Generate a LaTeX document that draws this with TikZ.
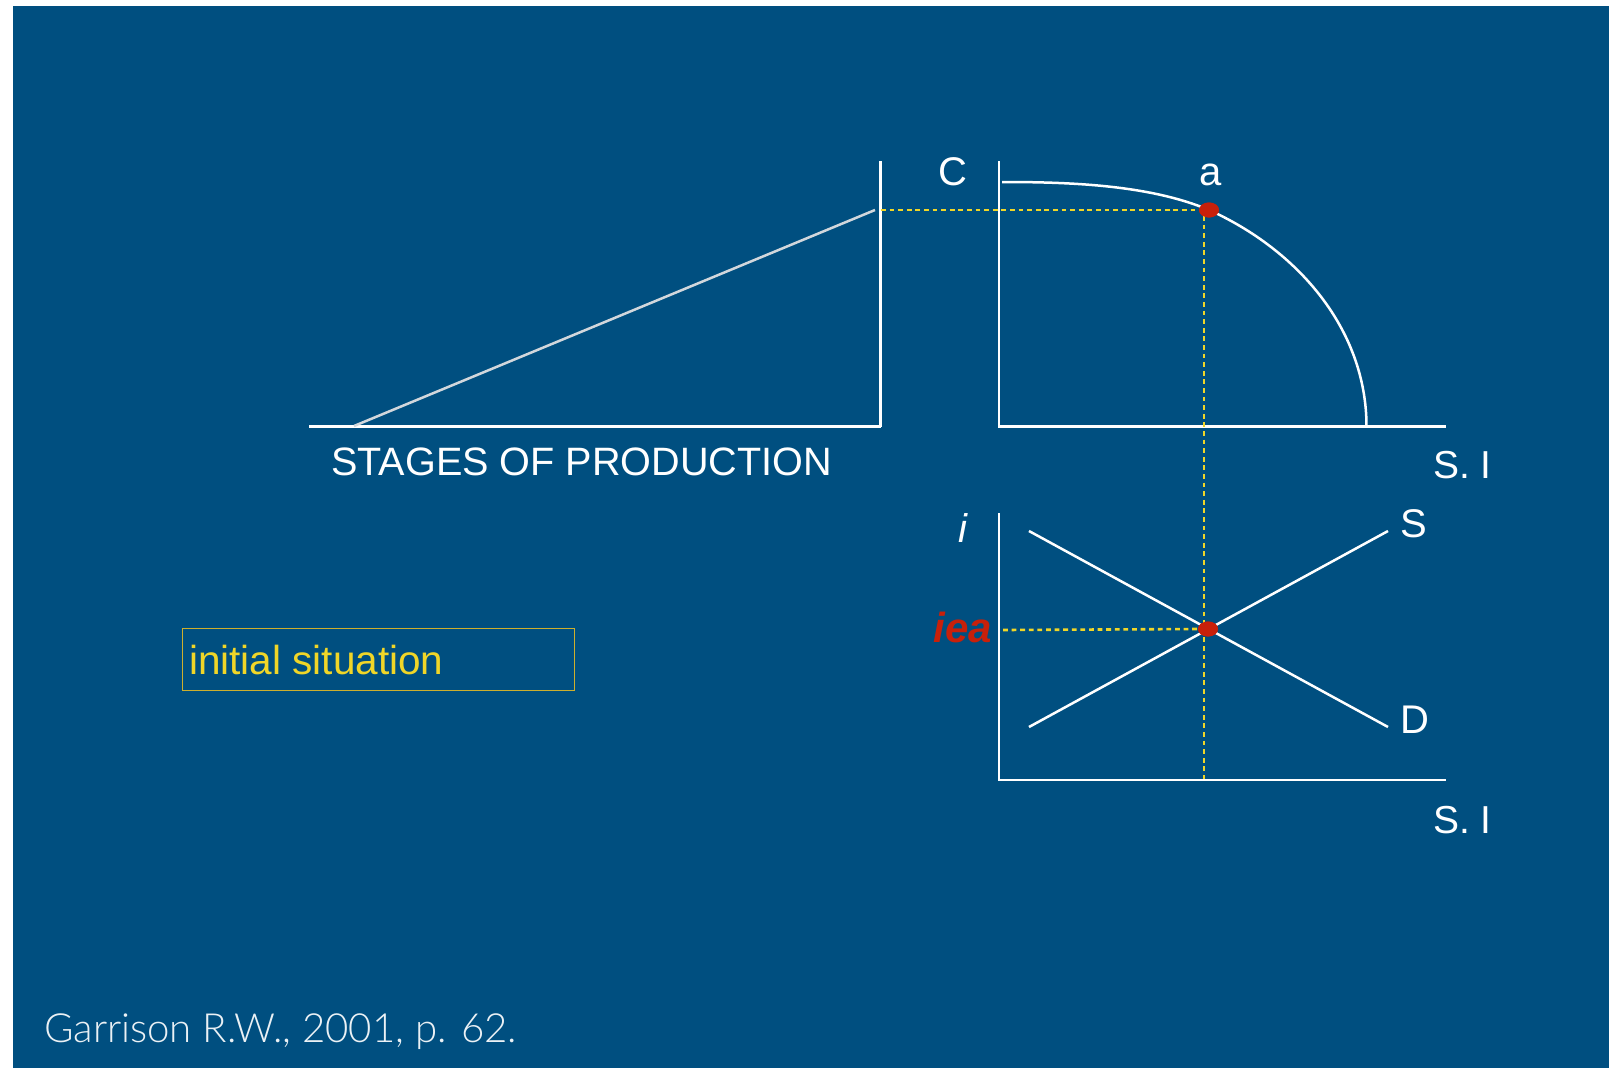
\documentclass[tikz,border=0pt]{standalone}
\usepackage{fontspec}
\setmainfont{Liberation Sans}
\IfFontExistsTF{Lato Light}{\newfontfamily\lightfont{Lato Light}}{\newfontfamily\lightfont{Liberation Sans}}
\definecolor{bgblue}{RGB}{0,79,128}
\definecolor{dotred}{RGB}{200,32,10}
\definecolor{guideyellow}{RGB}{240,214,40}
\definecolor{boxyellow}{RGB}{205,175,45}
\definecolor{lightline}{RGB}{210,215,220}
\begin{document}
\begin{tikzpicture}[x=1pt,y=-1pt,
  axisline/.style={draw=white,line width=2.5pt},
  slopeline/.style={draw=lightline,line width=2.5pt},
  guide/.style={draw=guideyellow,line width=2.6pt,dash pattern=on 4.8pt off 3.8pt},
  dotpt/.style={ellipse,fill=dotred,minimum width=20pt,minimum height=15pt,inner sep=0pt},
  lbl/.style={text=white,font=\fontsize{40}{48}\selectfont,inner sep=0pt,anchor=base},
]
\usetikzlibrary{shapes.geometric}
\useasboundingbox (0,0) rectangle (1609,1068);
\fill[white] (0,0) rectangle (1609,1068);
\fill[bgblue] (13,6) rectangle (1609,1068);

% ---- left panel: stages of production
\coordinate (lb0) at (309,426.5);
\coordinate (lb1) at (880.5,426.5);
\coordinate (lv0) at (880.5,161);
\coordinate (dg0) at (354,426);
\coordinate (dg1) at (875,210);
\draw[axisline] (lb0) -- (lb1);
\draw[axisline] (lv0) -- (lb1);
\draw[slopeline] (dg0) -- (dg1);
\node[lbl,anchor=base west,font=\fontsize{39.6}{46}\selectfont] (stages) at (331,475) {STAGES OF PRODUCTION};

% ---- upper right panel: PPF
\coordinate (rv0) at (999,161);
\coordinate (ro) at (999,426.5);
\coordinate (rh1) at (1446,426.5);
\draw[axisline] (rv0) -- (ro) -- (rh1);
\coordinate (cs) at (1002,182);
\coordinate (ce) at (1366.5,426.5);
\node[dotpt] (a) at (1209,210) {};
\draw[axisline]
  (cs) .. controls (1071,182) and (1150,185) .. (a.center)
       .. controls (1297.3,249.7) and (1366.5,329) .. (ce);
\node[lbl] (lblC) at (953,185) {C};
\node[lbl] (lblA) at (1211,185) {a};
\node[lbl,anchor=base west,font=\fontsize{39}{46}\selectfont] (si1) at (1433,478.5) {S. I};

% ---- lower right panel: loanable funds
\coordinate (lv) at (999,513);
\coordinate (lo) at (999,780);
\coordinate (lh) at (1446,780);
\draw[axisline] (lv) -- (lo) -- (lh);
\coordinate (s0) at (1029,727);
\coordinate (s1) at (1388,531);
\coordinate (d0) at (1029,531);
\coordinate (d1) at (1388,727);
\draw[axisline] (s0) -- (s1);
\draw[axisline] (d0) -- (d1);
\node[dotpt] (e) at (1208,629) {};
\node[lbl,font=\fontsize{40}{48}\selectfont\itshape] (lbli) at (963,542.5) {i};
\node[lbl,anchor=base east,text=dotred,font=\fontsize{42}{50}\selectfont\bfseries\itshape] (iea) at (992,642.5) {iea};
\node[lbl,anchor=base west] (lblS) at (1400,537.5) {S};
\node[lbl,anchor=base west] (lblD) at (1400,733) {D};
\node[lbl,anchor=base west,font=\fontsize{39}{46}\selectfont] (si2) at (1433,833) {S. I};

% ---- guides
\coordinate (gl) at (881,210);
\coordinate (gb) at (1204,779);
\coordinate (gi) at (1003,630);
\draw[guide] (gl) -- (a.west);
\draw[guide] (1204,216) -- (gb);
\draw[guide] (gi) -- (e.west);
\node[dotpt] at (a.center) {};
\node[dotpt] at (e.center) {};

% ---- box
\node[draw=boxyellow,line width=1.4pt,minimum width=392pt,minimum height=62pt,anchor=north west,inner sep=0pt] (box) at (181.5,628) {};
\node[lbl,anchor=base west,text=guideyellow,font=\fontsize{40.5}{48}\selectfont] (init) at (189,674) {initial situation};

% ---- source
\node[lbl,anchor=base west,text=white!92!bgblue,font=\fontsize{40.2}{48}\lightfont] (src) at (44,1042.5) {Garrison R.W., 2001, p. 62.};
\end{tikzpicture}
\end{document}
